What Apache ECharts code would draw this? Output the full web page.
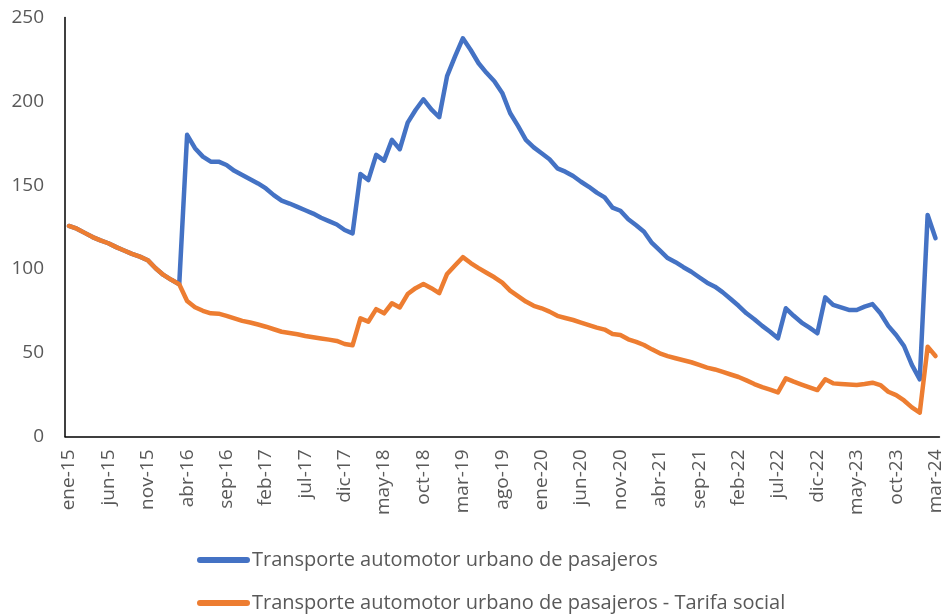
<!DOCTYPE html>
<html>
<head>
<meta charset="utf-8">
<script src="https://cdn.jsdelivr.net/npm/echarts@6/dist/echarts.min.js"></script>
<style>
  html, body { margin: 0; padding: 0; background: #fff; }
  #chart { width: 945px; height: 614px; }
</style>
</head>
<body>
<div id="chart"></div>
<script>
// month abbreviations used for the category labels
const meses = ['ene', 'feb', 'mar', 'abr', 'may', 'jun', 'jul', 'ago', 'sep', 'oct', 'nov', 'dic'];
const anioInicio = 2015;
const totalMeses = 111; // ene-15 .. mar-24

const categorias = [];
for (let i = 0; i < totalMeses; i++) {
    const yy = String((anioInicio + Math.floor(i / 12)) % 100).padStart(2, '0');
    categorias.push(meses[i % 12] + '-' + yy);
}

const nombreGeneral = 'Transporte automotor urbano de pasajeros';
const nombreSocial = 'Transporte automotor urbano de pasajeros - Tarifa social';

const general = [
    125.6, 124, 121.5, 119, 117, 115.3, 113, 111, 109, 107.3, 105.2, 100.4, 96.4, 93.5, 90.8,
    180, 172, 167, 164, 164, 162, 158.5, 156, 153.5, 151, 148, 144, 140.7, 139, 137, 135, 133, 130.5, 128.5, 126.5, 123.2, 121.2,
    156.6, 153, 168, 164.6, 177, 171.4, 187.3, 194.8, 201.2, 195.2, 190.5, 215, 226.6, 237.6, 230.6, 222.7, 217, 212, 205, 193,
    185.3, 177, 172.5, 169, 165.4, 160, 158, 155.4, 152, 149, 145.5, 142.7, 136.5, 134.7, 129.6, 126, 122.2, 115.5, 111,
    106.5, 104, 101, 98.3, 95, 91.8, 89.4, 86, 82, 78, 73.5, 70, 66, 62.5, 58.6, 76.5, 72, 68, 65, 61.6,
    83, 78.5, 77, 75.5, 75.5, 77.5, 79, 73.5, 66, 60.6, 54, 42.7, 34.1, 132.2, 118.3
];

const social = [
    125.6, 124, 121.5, 119, 117, 115.3, 113, 111, 109, 107.3, 105.2, 100.4, 96.4, 93.5, 90.8,
    80.8, 77.1, 75, 73.5, 73.3, 72, 70.5, 69, 68, 66.8, 65.5, 64, 62.5, 61.8, 61, 60, 59.2, 58.5, 57.8, 57, 55.2, 54.4,
    70.5, 68.5, 76, 73.5, 79.5, 77, 85, 88.5, 91, 88.5, 85.5, 97, 102, 107, 103.5, 100.5, 97.7, 95, 91.8, 87,
    83.8, 80.5, 78, 76.5, 74.5, 72, 70.7, 69.5, 68, 66.5, 65, 63.8, 61.2, 60.6, 58, 56.5, 54.6, 52, 49.6,
    48, 46.7, 45.5, 44.3, 42.7, 41.1, 40, 38.5, 37, 35.5, 33.5, 31.3, 29.5, 28, 26.3, 34.7, 32.7, 31, 29.3, 27.7,
    34.1, 31.7, 31.3, 31, 30.7, 31.3, 32.1, 30.7, 26.7, 24.7, 21.5, 17.4, 14.2, 53.6, 48
];

const chart = echarts.init(document.getElementById('chart'));
const fuente = '"Open Sans", "Noto Sans", sans-serif';
const grisTexto = '#595959';
// rounded bar used as legend icon
const iconoLinea = 'path://M3,0 L50,0 A3,3 0 0 1 50,6 L3,6 A3,3 0 0 1 3,0 Z';

function leyenda(nombre, top) {
    return {
        left: 192,
        top: top,
        icon: iconoLinea,
        itemWidth: 53,
        itemHeight: 6,
        textStyle: { fontFamily: fuente, fontSize: 20, color: grisTexto, padding: [0, 0, 0, -3] },
        data: [nombre]
    };
}

chart.setOption({
    animation: false,
    textStyle: { fontFamily: fuente },
    grid: { left: 65, top: 17.5, width: 877, height: 419 },
    legend: [leyenda(nombreGeneral, 545), leyenda(nombreSocial, 588)],
    xAxis: {
        type: 'category',
        data: categorias,
        boundaryGap: true,
        axisLine: { lineStyle: { color: '#000', width: 1.5 } },
        axisTick: { interval: 4, length: 5, lineStyle: { color: '#000', width: 1.5 } },
        axisLabel: { interval: 4, rotate: 90, fontSize: 19, color: grisTexto, margin: 13, fontFamily: fuente }
    },
    yAxis: {
        type: 'value',
        min: 0,
        max: 250,
        interval: 50,
        splitLine: { show: false },
        axisLine: { show: true, lineStyle: { color: '#000', width: 1.5 } },
        axisTick: { show: false },
        axisLabel: { fontSize: 19, color: grisTexto, margin: 21, fontFamily: fuente }
    },
    series: [
        {
            name: nombreGeneral,
            type: 'line',
            data: general,
            showSymbol: false,
            symbol: 'none',
            lineStyle: { color: '#4472C4', width: 4.5, cap: 'round', join: 'round' },
            itemStyle: { color: '#4472C4' }
        },
        {
            name: nombreSocial,
            type: 'line',
            data: social,
            showSymbol: false,
            symbol: 'none',
            lineStyle: { color: '#ED7D31', width: 4.5, cap: 'round', join: 'round' },
            itemStyle: { color: '#ED7D31' }
        }
    ]
});
</script>
</body>
</html>
